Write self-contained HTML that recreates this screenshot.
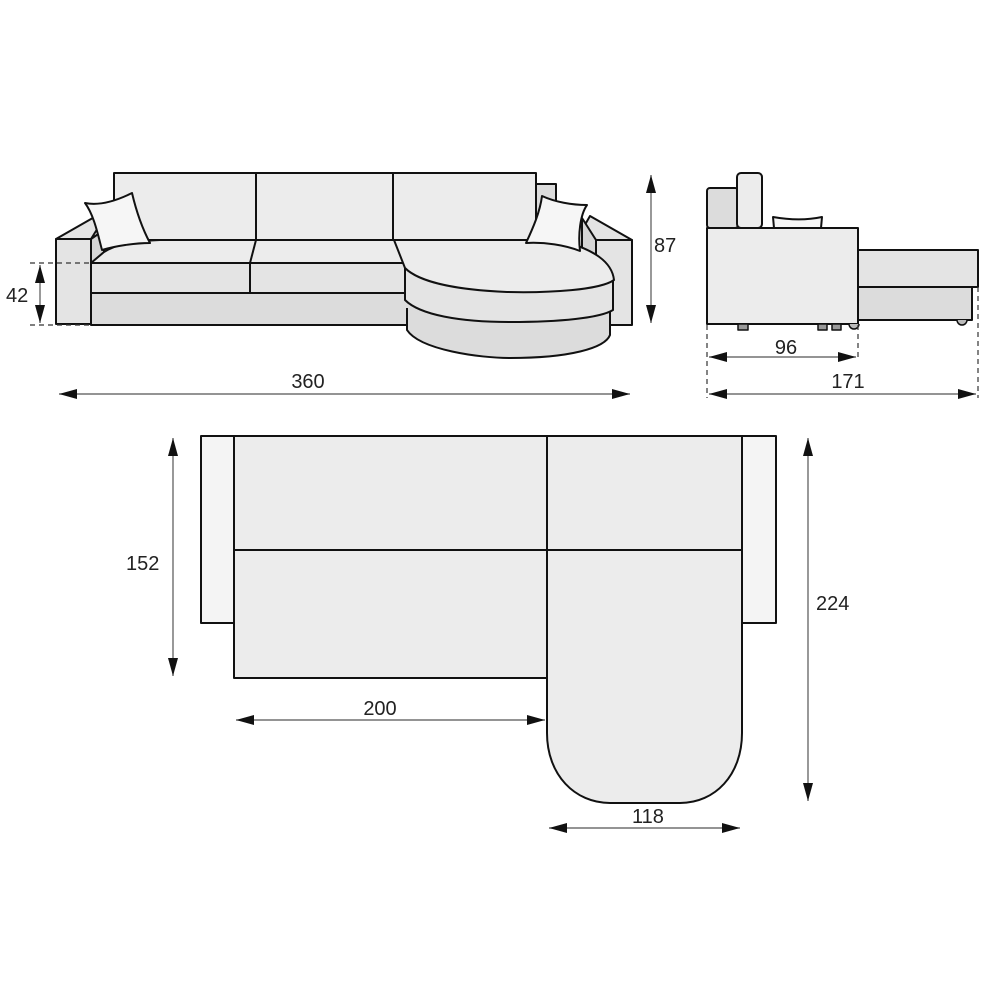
<!DOCTYPE html>
<html><head><meta charset="utf-8"><style>
html,body{margin:0;padding:0;background:#fff;width:1000px;height:1000px;overflow:hidden}
svg{display:block}
text{font-family:"Liberation Sans",sans-serif;font-size:20px;fill:#222}
</style></head><body>
<svg width="1000" height="1000" viewBox="0 0 1000 1000" xmlns="http://www.w3.org/2000/svg">
<defs>
<marker id="a" viewBox="0 0 10 10" refX="10" refY="5" markerWidth="18" markerHeight="10" orient="auto-start-reverse" markerUnits="userSpaceOnUse" preserveAspectRatio="none"><path d="M0,0 L10,5 L0,10 Z" fill="#111"/></marker>
</defs>
<g stroke="#111" stroke-width="2" stroke-linejoin="round">
<!-- FRONT VIEW -->
<rect x="536" y="184" width="20" height="30" fill="#dcdcdc"/>
<rect x="114" y="173" width="422" height="67" fill="#ececec"/>
<line x1="256" y1="173" x2="256" y2="240"/>
<line x1="393" y1="173" x2="393" y2="240"/>
<polygon points="56,239 98,215 106,215 91,239" fill="#e4e4e4"/>
<polygon points="91,239 104,230 104,255 91,263" fill="#d6d6d6"/>
<rect x="56" y="239" width="35" height="85" fill="#e4e4e4"/>
<polygon points="590,216 632,240 596,240 582,230" fill="#e4e4e4"/>
<polygon points="582,218 596,240 596,262 582,258" fill="#d6d6d6"/>
<rect x="596" y="240" width="36" height="85" fill="#e4e4e4"/>
<path d="M91,263 L104,252 C115,245 130,241 160,240 L395,240 L405,263 Z" fill="#ececec"/>
<rect x="91" y="263" width="159" height="30" fill="#e4e4e4"/>
<rect x="250" y="263" width="155" height="30" fill="#e4e4e4"/>
<rect x="91" y="293" width="316" height="32" fill="#dcdcdc"/>
<line x1="250" y1="263" x2="256" y2="240"/>
<path d="M405,300 L407,330 C420,350 480,358 510,358 C570,358 605,348 610,335 L610,310 Z" fill="#dcdcdc" stroke="none"/>
<path d="M407,308 L407,330 C420,350 480,358 510,358 C570,358 605,348 610,335 L610,312" fill="none"/>
<path d="M405,268 L405,300 C420,315 460,322 510,322 C560,322 600,318 613,310 L613,280 Z" fill="#e4e4e4"/>
<path d="M394,240 L560,240 C595,250 612,262 614,280 C600,290 550,293 507,292 C460,290 420,283 405,268 Z" fill="#ececec"/>
<path d="M85,203 C100,206 118,200 132,193 C136,210 142,228 150,243 C135,243 115,246 102,250 C98,235 94,215 85,203 Z" fill="#f6f6f6"/>
<path d="M542,196 C555,202 572,205 587,205 C580,215 578,235 580,251 C565,245 545,242 526,243 C533,228 540,212 542,196 Z" fill="#f6f6f6"/>
<!-- SIDE VIEW -->
<rect x="707" y="188" width="31" height="40" rx="3" fill="#dcdcdc"/>
<rect x="737" y="173" width="25" height="55" rx="4" fill="#ececec"/>
<path d="M773,217 C790,220 808,220 822,217 L821,228 L774,228 Z" fill="#f6f6f6"/>
<rect x="858" y="287" width="114" height="33" fill="#dcdcdc"/>
<rect x="858" y="250" width="120" height="37" fill="#e4e4e4"/>
<rect x="707" y="228" width="151" height="96" fill="#ececec"/>
<rect x="738" y="324" width="10" height="6" fill="#999" stroke-width="1.5"/>
<rect x="818" y="324" width="9" height="6" fill="#999" stroke-width="1.5"/>
<rect x="832" y="324" width="9" height="6" fill="#999" stroke-width="1.5"/>
<path d="M849,324 a5,5 0 0 0 10,0" fill="#bbb" stroke-width="1.5"/>
<path d="M957,320 a5,5 0 0 0 10,0" fill="#bbb" stroke-width="1.5"/>
<!-- TOP VIEW -->
<rect x="201" y="436" width="33" height="187" fill="#f4f4f4"/>
<rect x="742" y="436" width="34" height="187" fill="#f4f4f4"/>
<rect x="234" y="436" width="508" height="114" fill="#ececec"/>
<line x1="547" y1="436" x2="547" y2="550"/>
<rect x="234" y="550" width="313" height="128" fill="#ececec"/>
<path d="M547,550 L742,550 L742,733 C742,775 715,803 680,803 L610,803 C575,803 547,775 547,733 Z" fill="#ececec"/>
</g>
<g stroke="#555" stroke-width="1.2" fill="none">
<line x1="59" y1="394" x2="630" y2="394" marker-start="url(#a)" marker-end="url(#a)"/>
<line x1="651" y1="175" x2="651" y2="323" marker-start="url(#a)" marker-end="url(#a)"/>
<line x1="40" y1="265" x2="40" y2="323" marker-start="url(#a)" marker-end="url(#a)"/>
<line x1="709" y1="357" x2="856" y2="357" marker-start="url(#a)" marker-end="url(#a)"/>
<line x1="709" y1="394" x2="976" y2="394" marker-start="url(#a)" marker-end="url(#a)"/>
<line x1="173" y1="438" x2="173" y2="676" marker-start="url(#a)" marker-end="url(#a)"/>
<line x1="808" y1="438" x2="808" y2="801" marker-start="url(#a)" marker-end="url(#a)"/>
<line x1="236" y1="720" x2="545" y2="720" marker-start="url(#a)" marker-end="url(#a)"/>
<line x1="549" y1="828" x2="740" y2="828" marker-start="url(#a)" marker-end="url(#a)"/>
<g stroke="#333" stroke-dasharray="5,4">
<line x1="30" y1="263" x2="91" y2="263"/>
<line x1="30" y1="325" x2="91" y2="325"/>
<line x1="707" y1="325" x2="707" y2="398"/>
<line x1="858" y1="325" x2="858" y2="360"/>
<line x1="978" y1="287" x2="978" y2="398"/>
</g>
</g>
<text x="308" y="388" text-anchor="middle">360</text>
<text x="654" y="252">87</text>
<text x="6" y="302">42</text>
<text x="786" y="354" text-anchor="middle">96</text>
<text x="848" y="388" text-anchor="middle">171</text>
<text x="126" y="570">152</text>
<text x="816" y="610">224</text>
<text x="380" y="715" text-anchor="middle">200</text>
<text x="648" y="823" text-anchor="middle">118</text>
</svg>
</body></html>
